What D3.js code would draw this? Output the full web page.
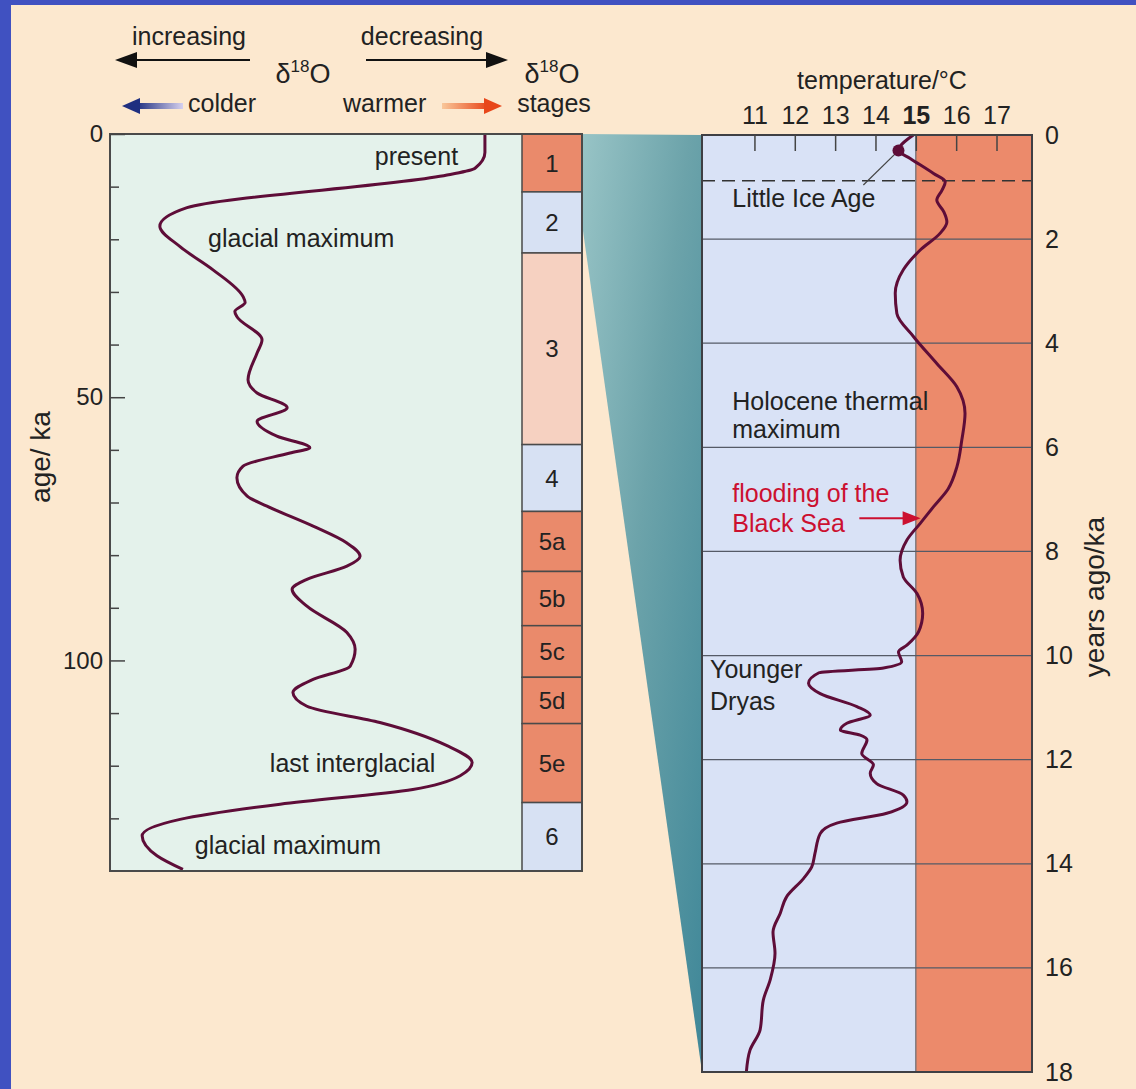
<!DOCTYPE html>
<html>
<head>
<meta charset="utf-8">
<script src="https://cdn.jsdelivr.net/npm/d3@7/dist/d3.min.js"></script>
<style>
body{margin:0;background:#4051c1;}
text{font-family:"Liberation Sans",Arial,Helvetica,sans-serif;fill:#222;}
</style>
</head>
<body>
<script>
// --- data ---------------------------------------------------------------
// oxygen isotope stages (ka)
var stage_names = ["1", "2", "3", "4", "5a", "5b", "5c", "5d", "5e", "6"];
var stage_bounds = [0, 11, 22.6, 59, 71.7, 83.1, 93.4, 103.2, 112, 127, 140];
var stage_kind = ["warm", "cold", "mild", "cold", "warm", "warm", "warm", "warm", "warm", "cold"];

// d18O curve, relative position 0 (increasing d18O, colder) .. 100 (decreasing, warmer)
var d18o_age = [0, 3.5, 6.5, 7.8, 14, 17.5, 21.4, 25.8, 30.9, 32, 33.7, 34.7, 39.1, 41.6, 46.7,
                49.2, 52, 54.6, 57.4, 59.6, 60.6, 63.1, 65.3, 68.8, 70.7, 74.5, 77.7, 80.2, 82.1,
                84.6, 86.5, 89.7, 94.7, 97.9, 101.1, 103.6, 106.1, 108.7, 111.8, 116.2, 119.4,
                121.9, 124.5, 127.3, 130.2, 133.3, 137.1, 139.7];
var d18o_value = [91, 91, 88.6, 81.8, 18.7, 12.1, 17, 25, 32.3, 32.8, 30.3, 30.8, 36.9, 35.7, 33.5,
                  35.7, 43, 35.7, 40.5, 48.5, 43.7, 32.3, 30.8, 33.3, 38.1, 49.3, 57.5, 60.7, 57.5,
                  47.8, 44.2, 47.8, 57.5, 59.5, 58.3, 49.3, 44.4, 47.8, 65.5, 81.8, 87.9,
                  85, 73.5, 41.3, 17, 7.8, 11.4, 17.7];

// temperature over the last 18 ka
var temp_age = [0, 0.3, 0.45, 0.74, 0.9, 1.06, 1.25, 1.47, 1.67, 1.89, 2.21, 2.59, 3.04, 3.43, 3.87,
                4.39, 4.84, 5.35, 5.86, 6.37, 6.8, 7.14, 7.46, 7.78, 8.17, 8.49, 8.81, 9.19, 9.54,
                9.8, 9.93, 10.12, 10.24, 10.33, 10.53, 10.73, 10.98, 11.14, 11.3, 11.43, 11.53,
                11.62, 11.88, 12.1, 12.26, 12.46, 12.68, 12.81, 13.03, 13.22, 13.42, 13.8, 14.06,
                14.28, 14.63, 14.95, 15.31, 15.72, 16.23, 16.62, 17.19, 17.58, 18];
var temp_value = [14.94, 14.57, 14.86, 15.44, 15.73, 15.65, 15.52, 15.69, 15.77, 15.6, 15.11, 14.69, 14.49, 14.53, 14.94,
                  15.52, 16.02, 16.22, 16.14, 16.02, 15.8, 15.44, 15.11, 14.78, 14.61, 14.69, 15.03, 15.17, 15.07,
                  14.78, 14.57, 14.65, 14.2, 12.6, 12.34, 12.63, 13.54, 13.87, 13.29, 13.13, 13.62,
                  13.79, 13.66, 13.95, 13.87, 14.03, 14.69, 14.78, 14.28, 13.04, 12.63, 12.5, 12.42,
                  12.22, 11.8, 11.64, 11.46, 11.51, 11.39, 11.22, 11.14, 10.89, 10.8];

var temp_ticks = [11, 12, 13, 14, 15, 16, 17];
var year_ticks = [0, 2, 4, 6, 8, 10, 12, 14, 16, 18];
var age_major = [0, 50, 100];
var age_minor = [10, 20, 30, 40, 60, 70, 80, 90, 110, 120, 130];

// --- setup --------------------------------------------------------------
var width = 1136, height = 1089;
var svg = d3.select("body").append("svg")
    .attr("width", width).attr("height", height);

var defs = svg.append("defs");
var g1 = defs.append("linearGradient").attr("id", "teal")
    .attr("x1", 0).attr("y1", 0).attr("x2", 1).attr("y2", 1);
g1.append("stop").attr("offset", 0).attr("stop-color", "#98c4c6");
g1.append("stop").attr("offset", 0.45).attr("stop-color", "#6ca3aa");
g1.append("stop").attr("offset", 1).attr("stop-color", "#3f8798");
var g2 = defs.append("linearGradient").attr("id", "cold_arrow");
g2.append("stop").attr("offset", 0).attr("stop-color", "#1f2f80");
g2.append("stop").attr("offset", 1).attr("stop-color", "#d6d0ee");
var g3 = defs.append("linearGradient").attr("id", "warm_arrow");
g3.append("stop").attr("offset", 0).attr("stop-color", "#f9c79a");
g3.append("stop").attr("offset", 1).attr("stop-color", "#e8461a");

svg.append("rect").attr("width", width).attr("height", height).attr("fill", "#4051c1");
svg.append("rect").attr("x", 11).attr("y", 5).attr("width", width - 11).attr("height", height - 5)
    .attr("fill", "#fce8cf");

var yL = d3.scaleLinear().domain([0, 140]).range([134, 871]);
var xL = d3.scaleLinear().domain([0, 100]).range([110, 522]);
var stageX0 = 522, stageX1 = 582;
var yR = d3.scaleLinear().domain([0, 18]).range([135, 1072]);
var xR = d3.scaleLinear().domain([9.7, 17.88]).range([702, 1032]);

// teal wedge: left 0-18 ka blown up into the right panel
svg.append("path")
    .attr("d", "M" + stageX1 + "," + yL(0) + "L" + xR.range()[0] + "," + yR(0) +
               "L" + xR.range()[0] + "," + yR(18) + "L" + stageX1 + "," + (yL(18) - 5) + "Z")
    .attr("fill", "url(#teal)");

// --- left panel ---------------------------------------------------------
svg.append("rect").attr("x", xL(0)).attr("y", yL(0))
    .attr("width", xL(100) - xL(0)).attr("height", yL(140) - yL(0))
    .attr("fill", "#e4f2eb");

var stage_fill = {warm: "#ea8a6b", cold: "#d7e1f3", mild: "#f6d1c1"};
var stages = stage_names.map(function(n, i){
    return {name: n, a0: stage_bounds[i], a1: stage_bounds[i + 1], kind: stage_kind[i]};
});
svg.selectAll(".stage").data(stages).enter().append("rect")
    .attr("x", stageX0).attr("width", stageX1 - stageX0)
    .attr("y", function(d){ return yL(d.a0); })
    .attr("height", function(d){ return yL(d.a1) - yL(d.a0); })
    .attr("fill", function(d){ return stage_fill[d.kind]; })
    .attr("stroke", "#4a4a4a").attr("stroke-width", 1.5);
svg.selectAll(".stage_lab").data(stages).enter().append("text")
    .attr("x", (stageX0 + stageX1) / 2)
    .attr("y", function(d){ return (yL(d.a0) + yL(d.a1)) / 2; })
    .attr("dy", "0.36em").attr("text-anchor", "middle")
    .style("font-size", "24px")
    .text(function(d){ return d.name; });

var d18o = d18o_age.map(function(a, i){ return {a: a, v: d18o_value[i]}; });
svg.append("path").datum(d18o)
    .attr("d", d3.line().x(function(d){ return xL(d.v); }).y(function(d){ return yL(d.a); })
        .curve(d3.curveMonotoneY))
    .attr("fill", "none").attr("stroke", "#5e0d38").attr("stroke-width", 3);

svg.append("rect").attr("x", xL(0)).attr("y", yL(0))
    .attr("width", stageX1 - xL(0)).attr("height", yL(140) - yL(0))
    .attr("fill", "none").attr("stroke", "#4a4a4a").attr("stroke-width", 2);

var axMinor = svg.append("g").attr("transform", "translate(" + xL(0) + ",0)")
    .call(d3.axisLeft(yL).tickValues(age_minor).tickSize(-9).tickFormat(""));
var axMajor = svg.append("g").attr("transform", "translate(" + xL(0) + ",0)")
    .call(d3.axisLeft(yL).tickValues(age_major).tickSize(-15).tickPadding(7));
[axMinor, axMajor].forEach(function(ax){
    ax.select(".domain").remove();
    ax.selectAll("line").attr("stroke", "#444").attr("stroke-width", 1.5);
    ax.selectAll("text").style("font-size", "24px").attr("fill", "#222")
        .style("font-family", "'Liberation Sans',Arial,sans-serif");
});

svg.append("text").attr("transform", "translate(50,457) rotate(-90)")
    .attr("text-anchor", "middle").style("font-size", "28px").text("age/ ka");

var left_notes = [
    {t: "present", a: 5.9, v: 84.5, anchor: "end"},
    {t: "glacial maximum", a: 21.4, v: 23.8, anchor: "start"},
    {t: "last interglacial", a: 121.1, v: 38.8, anchor: "start"},
    {t: "glacial maximum", a: 136.8, v: 20.6, anchor: "start"}
];
svg.selectAll(".lnote").data(left_notes).enter().append("text")
    .attr("x", function(d){ return xL(d.v); })
    .attr("y", function(d){ return yL(d.a); })
    .attr("text-anchor", function(d){ return d.anchor; })
    .style("font-size", "25px")
    .text(function(d){ return d.t; });

// --- header above left panel --------------------------------------------
function arrow(x0, x1, y, color, w, head){
    var dir = x1 > x0 ? 1 : -1;
    svg.append("line").attr("x1", x0).attr("x2", x1 - dir * head * 0.8)
        .attr("y1", y).attr("y2", y).attr("stroke", color).attr("stroke-width", w);
    svg.append("path")
        .attr("d", "M" + x1 + "," + y + "L" + (x1 - dir * head) + "," + (y - head * 0.36) +
                   "L" + (x1 - dir * head) + "," + (y + head * 0.36) + "Z")
        .attr("fill", color);
}
svg.append("text").attr("x", 189).attr("y", 45).attr("text-anchor", "middle")
    .style("font-size", "25px").text("increasing");
svg.append("text").attr("x", 422).attr("y", 45).attr("text-anchor", "middle")
    .style("font-size", "25px").text("decreasing");
arrow(250, 115, 60, "#111", 2, 22);
arrow(366, 508, 60, "#111", 2, 22);

function delta(x, y){
    var t = svg.append("text").attr("x", x).attr("y", y).attr("text-anchor", "middle")
        .style("font-size", "27px");
    t.append("tspan").text("δ");
    t.append("tspan").attr("dy", -11).style("font-size", "17px").text("18");
    t.append("tspan").attr("dy", 11).text("O");
}
delta(303, 83);
delta(552, 83);
svg.append("text").attr("x", 554).attr("y", 112).attr("text-anchor", "middle")
    .style("font-size", "25px").text("stages");
svg.append("text").attr("x", 188).attr("y", 112).style("font-size", "25px").text("colder");
svg.append("text").attr("x", 343).attr("y", 112).style("font-size", "25px").text("warmer");
// colder / warmer arrows with fading shafts
svg.append("rect").attr("x", 136).attr("y", 103).attr("width", 47).attr("height", 6)
    .attr("fill", "url(#cold_arrow)");
svg.append("path").attr("d", "M122,106L140,98L140,114Z").attr("fill", "#1f2f80");
svg.append("rect").attr("x", 442).attr("y", 103).attr("width", 46).attr("height", 6)
    .attr("fill", "url(#warm_arrow)");
svg.append("path").attr("d", "M502,106L484,98L484,114Z").attr("fill", "#e8461a");

// --- right panel --------------------------------------------------------
svg.append("rect").attr("x", xR(9.7)).attr("y", yR(0))
    .attr("width", xR(15) - xR(9.7)).attr("height", yR(18) - yR(0)).attr("fill", "#d9e2f6");
svg.append("rect").attr("x", xR(15)).attr("y", yR(0))
    .attr("width", xR(17.88) - xR(15)).attr("height", yR(18) - yR(0)).attr("fill", "#ec8a6b");
svg.append("line").attr("x1", xR(15)).attr("x2", xR(15)).attr("y1", yR(0)).attr("y2", yR(18))
    .attr("stroke", "#6a6a72").attr("stroke-width", 1.2);

svg.selectAll(".grid").data(year_ticks.slice(1, -1)).enter().append("line")
    .attr("x1", xR(9.7)).attr("x2", xR(17.88))
    .attr("y1", function(d){ return yR(d); }).attr("y2", function(d){ return yR(d); })
    .attr("stroke", "#555a66").attr("stroke-width", 1.3);

// little ice age
svg.append("line").attr("x1", xR(9.7)).attr("x2", xR(17.88))
    .attr("y1", yR(0.88)).attr("y2", yR(0.88))
    .attr("stroke", "#333").attr("stroke-width", 1.6).attr("stroke-dasharray", "13,7");

var temp = temp_age.map(function(a, i){ return {a: a, v: temp_value[i]}; });
svg.append("path").datum(temp)
    .attr("d", d3.line().x(function(d){ return xR(d.v); }).y(function(d){ return yR(d.a); })
        .curve(d3.curveMonotoneY))
    .attr("fill", "none").attr("stroke", "#5e0d38").attr("stroke-width", 3);

svg.append("line").attr("x1", xR(14.57)).attr("y1", yR(0.3))
    .attr("x2", xR(13.7)).attr("y2", yR(0.96))
    .attr("stroke", "#444").attr("stroke-width", 1.2);
svg.append("circle").attr("cx", xR(14.57)).attr("cy", yR(0.3)).attr("r", 6)
    .attr("fill", "#5e0d38");

svg.append("rect").attr("x", xR(9.7)).attr("y", yR(0))
    .attr("width", xR(17.88) - xR(9.7)).attr("height", yR(18) - yR(0))
    .attr("fill", "none").attr("stroke", "#3f3f44").attr("stroke-width", 2);

var axTop = svg.append("g").attr("transform", "translate(0," + yR(0) + ")")
    .call(d3.axisTop(xR).tickValues(temp_ticks).tickSize(-16).tickPadding(11));
axTop.select(".domain").remove();
axTop.selectAll("line").attr("stroke", "#444").attr("stroke-width", 1.5);
axTop.selectAll("text").style("font-size", "25px").attr("fill", "#222")
    .style("font-family", "'Liberation Sans',Arial,sans-serif")
    .style("font-weight", function(d){ return d === 15 ? "bold" : "normal"; });

var axRight = svg.append("g").attr("transform", "translate(" + xR(17.88) + ",0)")
    .call(d3.axisRight(yR).tickValues(year_ticks).tickSize(0).tickPadding(13));
axRight.select(".domain").remove();
axRight.selectAll("text").style("font-size", "25px").attr("fill", "#222")
    .style("font-family", "'Liberation Sans',Arial,sans-serif");

svg.append("text").attr("x", 882).attr("y", 89).attr("text-anchor", "middle")
    .style("font-size", "25px").text("temperature/°C");
svg.append("text").attr("transform", "translate(1104,597) rotate(-90)")
    .attr("text-anchor", "middle").style("font-size", "28px").text("years ago/ka");

var right_notes = [
    {t: "Little Ice Age", a: 1.38, v: 10.45, c: "#222"},
    {t: "Holocene thermal", a: 5.28, v: 10.45, c: "#222"},
    {t: "maximum", a: 5.82, v: 10.45, c: "#222"},
    {t: "flooding of the", a: 7.05, v: 10.45, c: "#cc1030"},
    {t: "Black Sea", a: 7.63, v: 10.45, c: "#cc1030"},
    {t: "Younger", a: 10.43, v: 9.9, c: "#222"},
    {t: "Dryas", a: 11.05, v: 9.9, c: "#222"}
];
svg.selectAll(".rnote").data(right_notes).enter().append("text")
    .attr("x", function(d){ return xR(d.v); })
    .attr("y", function(d){ return yR(d.a); })
    .style("font-size", "25px")
    .style("fill", function(d){ return d.c; })
    .text(function(d){ return d.t; });

// flooding arrow
svg.append("line").attr("x1", xR(13.6)).attr("x2", xR(14.75))
    .attr("y1", yR(7.36)).attr("y2", yR(7.36))
    .attr("stroke", "#cc1030").attr("stroke-width", 2);
svg.append("path")
    .attr("d", "M" + xR(15.12) + "," + yR(7.36) + "L" + (xR(15.12) - 18) + "," + (yR(7.36) - 7) +
               "L" + (xR(15.12) - 18) + "," + (yR(7.36) + 7) + "Z")
    .attr("fill", "#cc1030");
</script>
</body>
</html>
